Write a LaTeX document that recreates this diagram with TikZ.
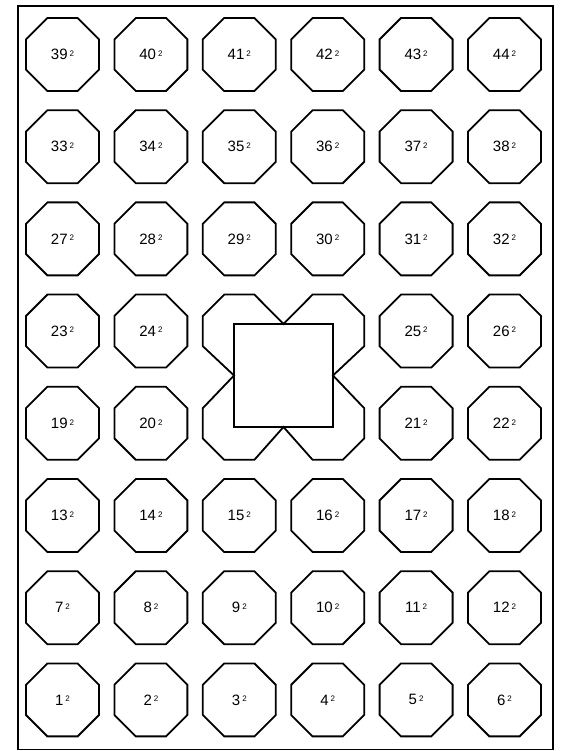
\documentclass[tikz,border=0pt]{standalone}
\usepackage{fontspec}
\setsansfont{Liberation Sans}
\usetikzlibrary{shapes.geometric}
\newcommand{\sqlabel}[1]{#1\hspace{2pt}\raisebox{3.4pt}{\fontsize{8}{9}\selectfont 2}}

\begin{document}
\begin{tikzpicture}[x=1pt,y=1pt,
  every node/.style={font=\sffamily\fontsize{15}{17}\selectfont},
  octo/.style={draw,regular polygon,regular polygon sides=8,minimum size=79pt,inner sep=0pt,line width=1.8pt},
  hole/.style={draw,rectangle,minimum width=99pt,minimum height=103pt,inner sep=0pt,outer sep=0pt,line width=1.8pt},
  edge/.style={line width=1.8pt}]

\useasboundingbox (0,0) rectangle (561,751);
\draw[edge] (18,1.5) rectangle (553,745);

% full rows
\foreach \r/\first in {1/1,2/7,3/13,6/27,7/33,8/39}
  \foreach \c in {1,...,6}{
    \pgfmathtruncatemacro{\n}{\first+\c-1}
    \node[octo] (oct\n) at ({62.5+(\c-1)*88.4},{51.1+(\r-1)*92.2}) {\sqlabel{\n}};
  }

% rows beside the square
\foreach \r/\first in {4/19,5/23}
  \foreach \c/\k in {1/0,2/1,5/2,6/3}{
    \pgfmathtruncatemacro{\n}{\first+\k}
    \node[octo] (oct\n) at ({62.5+(\c-1)*88.4},{51.1+(\r-1)*92.2}) {\sqlabel{\n}};
  }

% the square and the four cut octagons
\node[hole] (hole) at (283.5,375.5) {};
\coordinate (tl) at (239.3,419.9);
\coordinate (tr) at (327.7,419.9);
\coordinate (bl) at (239.3,327.7);
\coordinate (br) at (327.7,327.7);

\draw[edge] (hole.north)
  -- ([shift={(-15.1,36.5)}]tr) -- ([shift={(15.1,36.5)}]tr) -- ([shift={(36.5,15.1)}]tr) -- ([shift={(36.5,-15.1)}]tr)
  -- (hole.east)
  -- ([shift={(36.5,15.1)}]br) -- ([shift={(36.5,-15.1)}]br) -- ([shift={(15.1,-36.5)}]br) -- ([shift={(-15.1,-36.5)}]br)
  -- (hole.south)
  -- ([shift={(15.1,-36.5)}]bl) -- ([shift={(-15.1,-36.5)}]bl) -- ([shift={(-36.5,-15.1)}]bl) -- ([shift={(-36.5,15.1)}]bl)
  -- (hole.west)
  -- ([shift={(-36.5,-15.1)}]tl) -- ([shift={(-36.5,15.1)}]tl) -- ([shift={(-15.1,36.5)}]tl) -- ([shift={(15.1,36.5)}]tl)
  -- cycle;
\end{tikzpicture}
\end{document}
